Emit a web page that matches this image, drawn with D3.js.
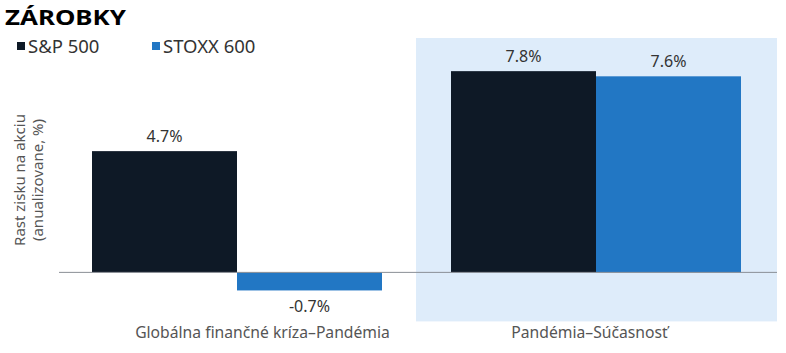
<!DOCTYPE html>
<html>
<head>
  <meta charset="utf-8">
  <script src="https://d3js.org/d3.v7.min.js"></script>
  <style>
    body { margin: 0; background: #fff; }
    text { font-family: "Noto Sans", sans-serif; }
  </style>
</head>
<body>
  <svg id="chart" width="786" height="353"></svg>
  <script>
    // Datos
    const categories = ["Globálna finančné kríza–Pandémia", "Pandémia–Súčasnosť"];
    const seriesNames = ["S&P 500", "STOXX 600"];
    const sp500 = [4.7, 7.8];
    const stoxx600 = [-0.7, 7.6];
    const valueLabels = [["4.7%", "-0.7%"], ["7.8%", "7.6%"]];

    const colors = ["#0e1926", "#2277c4"];
    const svg = d3.select("#chart");
    const margin = { left: 59, right: 9 };
    const width = 786;

    const x = d3.scaleBand().domain(categories).range([margin.left, width - margin.right]);
    const xInner = d3.scaleBand().domain(seriesNames).range([33, x.bandwidth() - 36]);
    const y = d3.scaleLinear().domain([-1.9, 9]).range([321.4, 40.2]);

    // Zona sombreada
    svg.append("rect")
      .attr("x", x(categories[1]) - 2)
      .attr("y", 38)
      .attr("width", x.bandwidth() + 2)
      .attr("height", y(-1.9) - 38)
      .attr("fill", "#deecfa");

    const rows = categories.map((c, i) => ({ cat: c, vals: [sp500[i], stoxx600[i]], labels: valueLabels[i] }));

    const groups = svg.selectAll("g.grp").data(rows).enter().append("g")
      .attr("transform", d => `translate(${x(d.cat)},0)`);

    groups.selectAll("rect")
      .data(d => d.vals.map((v, j) => ({ v, j, name: seriesNames[j] })))
      .enter().append("rect")
      .attr("x", d => xInner(d.name))
      .attr("y", d => y(Math.max(0, d.v)))
      .attr("width", xInner.bandwidth())
      .attr("height", d => Math.abs(y(d.v) - y(0)))
      .attr("fill", d => colors[d.j]);

    groups.selectAll("text.val")
      .data(d => d.vals.map((v, j) => ({ v, j, name: seriesNames[j], label: d.labels[j] })))
      .enter().append("text")
      .attr("class", "val")
      .attr("x", d => xInner(d.name) + xInner.bandwidth() / 2)
      .attr("y", d => d.v >= 0 ? y(d.v) - 9 : y(d.v) + 22)
      .attr("text-anchor", "middle")
      .attr("font-size", 16)
      .attr("fill", "#333")
      .text(d => d.label);

    // Linea del cero
    svg.append("line")
      .attr("x1", margin.left).attr("x2", width - margin.right)
      .attr("y1", y(0)).attr("y2", y(0))
      .attr("stroke", "#8a8f96").attr("stroke-width", 1);

    // Eje x (las etiquetas no estan centradas en el original)
    const labelShift = [24, -8];
    const xAxis = d3.axisBottom(x).tickSize(0).tickPadding(0);
    const gx = svg.append("g").attr("transform", "translate(0,327)").call(xAxis);
    gx.select(".domain").remove();
    gx.selectAll("text")
      .attr("dx", (d, i) => labelShift[i])
      .attr("font-size", 15.7).attr("fill", "#555").attr("font-family", "Noto Sans, sans-serif");

    // Etiqueta del eje y
    const yl = svg.append("text")
      .attr("transform", "translate(25,180) rotate(-90)")
      .attr("text-anchor", "middle")
      .attr("font-size", 15)
      .attr("fill", "#555");
    yl.append("tspan").attr("x", 0).attr("dy", 0).text("Rast zisku na akciu");
    yl.append("tspan").attr("x", 0).attr("dy", 18).text("(anualizovane, %)");

    // Titulo
    svg.append("text")
      .attr("x", 5).attr("y", 25)
      .attr("font-size", 22)
      .attr("font-weight", "bold")
      .attr("font-family", "Liberation Sans, Arial, sans-serif")
      .attr("textLength", 121)
      .attr("lengthAdjust", "spacingAndGlyphs")
      .attr("fill", "#000")
      .text("ZÁROBKY");

    // Leyenda
    const legendX = [17, 152];
    const legend = svg.selectAll("g.leg").data(seriesNames).enter().append("g")
      .attr("transform", (d, i) => `translate(${legendX[i]},42)`);
    legend.append("rect").attr("width", 8).attr("height", 8).attr("fill", (d, i) => colors[i]);
    legend.append("text").attr("x", 11).attr("y", 11).attr("font-size", 18.5).attr("fill", "#333").text(d => d);
  </script>
</body>
</html>
